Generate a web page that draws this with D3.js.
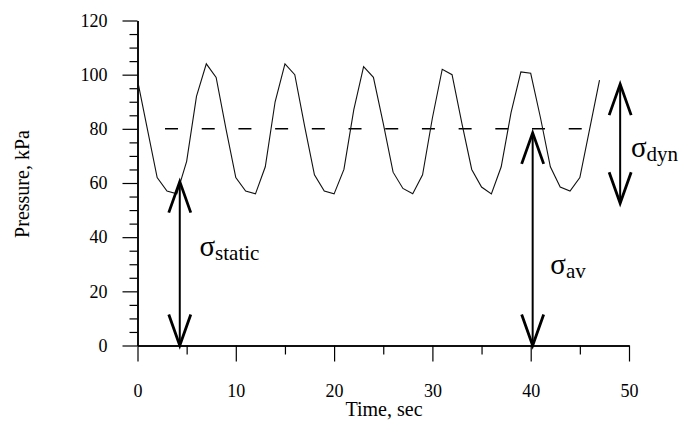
<!DOCTYPE html>
<html>
<head>
<meta charset="utf-8">
<script src="https://cdn.jsdelivr.net/npm/d3@7"></script>
</head>
<body style="margin:0; background:#fff">
<div id="container"></div>
<script>
// time (sec) and pressure (kPa)
var tiempo = [0,1,2,3,4,5,6,7,8,9,10,11,12,13,14,15,16,17,18,19,20,21,22,23,24,25,26,27,28,29,30,31,32,33,34,35,36,37,38,39,40,41,42,43,44,45,46,47]
var presion = [98,80,62,57,56,68,92,104,99,80,62,57,56,66,90,104,100,81,63,57,56,65,87,103,99,82,64,58,56,63,84,102,100,82,65,58.5,56,66,86,101,100.5,84,66,58.5,57,62,80,98]
var ticksX = [0,10,20,30,40,50]
var ticksY = [0,20,40,60,80,100,120]
// average level (dashed) and its extent in time
var nivelMedio = 80
var tramoMedio = [2.8, 45.2]
// arrows: time, from, to (kPa)
var flechas = [
  {t: 4.3, de: 0, a: 60.5},
  {t: 40.2, de: 0, a: 78.5},
  {t: 49.1, de: 52.5, a: 96.5}
]
// labels: sigma + subscript, anchored at time / pressure
var etiquetas = [
  {t: 6.3, p: 33, sub: "static"},
  {t: 42.0, p: 26.5, sub: "av"},
  {t: 50.2, p: 69.5, sub: "dyn"}
]

var ancho = 686, alto = 421
var fuente = "Liberation Serif"

var x = d3.scaleLinear().domain([0, 50]).range([137.5, 629])
var y = d3.scaleLinear().domain([0, 120]).range([345.5, 20.5])

var svg = d3.select("#container").append("svg")
  .attr("width", ancho).attr("height", alto)

// minor ticks
svg.append("g")
  .attr("transform", "translate(0," + y(0) + ")")
  .call(d3.axisBottom(x).tickValues(d3.range(5, 50, 10)).tickSize(9).tickSizeOuter(0).tickFormat(""))
svg.append("g")
  .attr("transform", "translate(" + x(0) + ",0)")
  .call(d3.axisLeft(y).tickValues(d3.range(5, 120, 5).filter(function(v){ return v % 20 != 0 })).tickSize(8).tickSizeOuter(0).tickFormat(""))

// major axes
svg.append("g")
  .attr("transform", "translate(0," + y(0) + ")")
  .call(d3.axisBottom(x).tickValues(ticksX).tickSize(16).tickSizeOuter(0).tickPadding(23))
svg.append("g")
  .attr("transform", "translate(" + x(0) + ",0)")
  .call(d3.axisLeft(y).tickValues(ticksY).tickSize(15).tickSizeOuter(0).tickPadding(15))

svg.selectAll(".domain").attr("stroke", "#000").attr("stroke-width", 1.5)
svg.selectAll(".tick line").attr("stroke", "#000").attr("stroke-width", 1.2)

// axis titles
svg.append("text")
  .attr("x", 384).attr("y", 416)
  .attr("text-anchor", "middle")
  .style("font-size", "20px")
  .text("Time, sec")
svg.append("text")
  .attr("transform", "translate(29,184) rotate(-90)")
  .attr("text-anchor", "middle")
  .style("font-size", "20px")
  .text("Pressure, kPa")

// average dashed line
svg.append("line")
  .attr("x1", x(tramoMedio[0])).attr("x2", x(tramoMedio[1]))
  .attr("y1", y(nivelMedio)).attr("y2", y(nivelMedio))
  .attr("stroke", "#000").attr("stroke-width", 1.5)
  .attr("stroke-dasharray", "13 23.7")

// pressure curve
var linea = d3.line()
  .x(function(d, i){ return x(tiempo[i]) })
  .y(function(d){ return y(d) })
svg.append("path")
  .datum(presion)
  .attr("d", linea)
  .attr("fill", "none")
  .attr("stroke", "#111")
  .attr("stroke-width", 1.1)

// double arrows with open heads
var g = svg.append("g").attr("stroke", "#000").attr("fill", "none")
flechas.forEach(function(f){
  var cx = x(f.t), y1 = y(f.a), y2 = y(f.de)
  g.append("line").attr("x1", cx).attr("x2", cx).attr("y1", y1).attr("y2", y2).attr("stroke-width", 2)
  g.append("path")
    .attr("d", "M" + (cx - 11) + "," + (y1 + 31) + "L" + cx + "," + y1 + "L" + (cx + 11) + "," + (y1 + 31))
    .attr("stroke-width", 2.8).attr("stroke-linejoin", "miter")
  g.append("path")
    .attr("d", "M" + (cx - 11) + "," + (y2 - 31) + "L" + cx + "," + y2 + "L" + (cx + 11) + "," + (y2 - 31))
    .attr("stroke-width", 2.8).attr("stroke-linejoin", "miter")
})

// sigma labels
etiquetas.forEach(function(e){
  var t = svg.append("text")
    .attr("x", x(e.t)).attr("y", y(e.p))
  t.append("tspan").style("font-size", "29px").text("σ")
  t.append("tspan").attr("dy", 4).style("font-size", "21px").text(e.sub)
})

// every text in the serif face
svg.selectAll("g").attr("font-family", null).attr("font-size", null)
svg.selectAll("text").attr("font-family", fuente).attr("fill", "#000")
svg.selectAll(".tick text").attr("font-size", 18).style("font-size", "18px")
</script>
</body>
</html>
